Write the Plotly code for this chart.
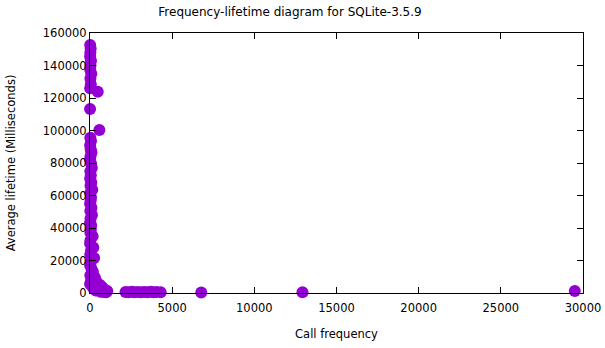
import plotly.graph_objects as go

# Call frequency vs. average lifetime per function (SQLite-3.5.9)
call_freq = [
    # tall column near zero frequency
    10, 40, 20, 5, 60, 30, 15, 80, 25, 50, 10, 470, 5, 570,
    20, 60, 10, 40, 90, 30, 5, 70, 110, 20, 50, 10, 80, 30,
    140, 15, 60, 40, 5, 90, 20, 120, 35, 10, 70, 50, 25, 160,
    30, 5, 200, 60, 15, 250, 40, 10, 90, 180, 20, 280, 60, 5,
    # cluster near the origin
    300, 420, 610, 750, 520, 900, 1050, 350, 180, 640, 820, 980,
    # frequent calls with short lifetimes
    2160, 2350, 2550, 2700, 2900, 3100, 3300, 3500, 3700, 3850, 4050, 4300,
    6770, 12930, 29500,
]
avg_lifetime = [
    152600, 150500, 148000, 145500, 143000, 140000, 137500, 135000, 132000, 128500, 126000, 123900, 113200, 100300,
    95500, 93500, 91000, 88500, 86500, 84000, 82000, 79500, 77000, 75000, 72500, 70500, 68000, 66000,
    63500, 61500, 59000, 57000, 55000, 52500, 50500, 48000, 46000, 43500, 41500, 39000, 37000, 35000,
    32500, 30500, 28000, 26000, 23500, 21500, 19000, 17000, 15000, 13000, 11000, 9500, 7500, 5500,
    9200, 6500, 4900, 3500, 2500, 2000, 1200, 1500, 3200, 800, 600, 400,
    600, 500, 700, 500, 600, 400, 600, 500, 700, 500, 600, 500,
    300, 500, 1200,
]

x_ticks = [0, 5000, 10000, 15000, 20000, 25000, 30000]
y_ticks = [0, 20000, 40000, 60000, 80000, 100000, 120000, 140000, 160000]

FONT = "DejaVu Sans"

fig = go.Figure(
    go.Scatter(
        x=call_freq,
        y=avg_lifetime,
        mode="markers",
        marker=dict(size=12, color="#9400D3", line=dict(width=0)),
        cliponaxis=False,
        showlegend=False,
    )
)

axis_common = dict(
    showline=True,
    linecolor="black",
    linewidth=1,
    mirror="allticks",
    ticks="inside",
    ticklen=6,
    tickcolor="black",
    showgrid=False,
    zeroline=False,
    automargin=False,
    tickfont=dict(family=FONT, size=11.5, color="black"),
    layer="above traces",
)

fig.update_xaxes(
    range=[0, 30000],
    tickvals=x_ticks,
    ticktext=[str(v) for v in x_ticks],
    ticklabelstandoff=4,
    title=dict(text="Call frequency", font=dict(family=FONT, size=11.5, color="black"), standoff=16),
    **axis_common,
)
fig.update_yaxes(
    range=[0, 160000],
    tickvals=y_ticks,
    ticktext=[str(v) for v in y_ticks],
    title=dict(text="Average lifetime (Milliseconds)", font=dict(family=FONT, size=11.5, color="black"), standoff=24),
    **axis_common,
)

fig.update_layout(
    width=605,
    height=348,
    margin=dict(l=90, r=22, t=33, b=55),
    paper_bgcolor="white",
    plot_bgcolor="white",
    font=dict(family=FONT, size=11.5, color="black"),
    title=dict(
        text="Frequency-lifetime diagram for SQLite-3.5.9",
        x=290 / 605,
        xref="container",
        xanchor="center",
        y=1 - 12 / 348,
        yref="container",
        yanchor="middle",
        font=dict(family=FONT, size=12, color="black"),
    ),
)

fig.write_html("out.html")
